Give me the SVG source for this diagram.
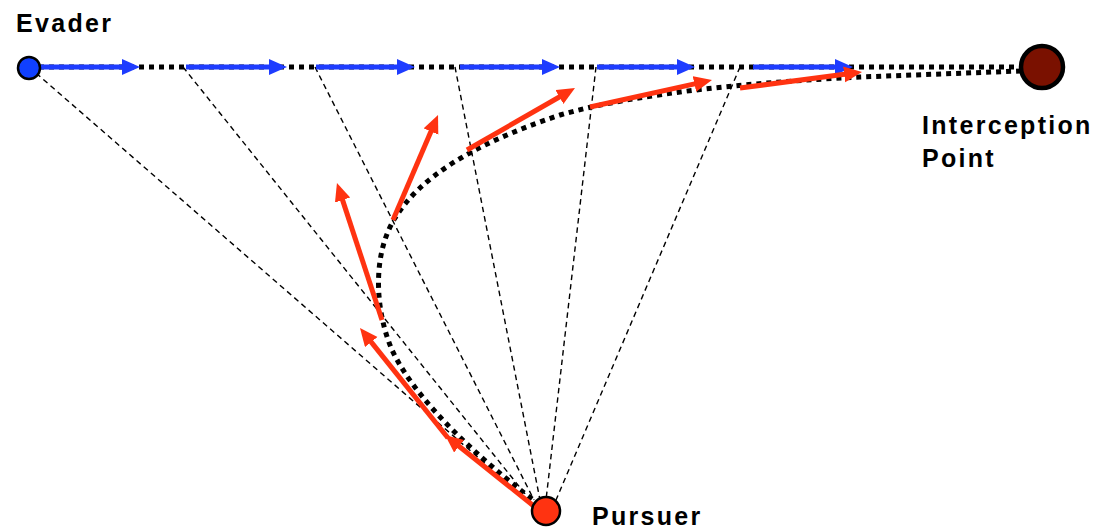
<svg xmlns="http://www.w3.org/2000/svg" width="1094" height="528" viewBox="0 0 1094 528">
  <defs>
    <marker id="headBlue" markerUnits="userSpaceOnUse" markerWidth="19" markerHeight="17" refX="6" refY="8" orient="auto">
      <path d="M0,0 L18,8 L0,16 z" fill="#1e3cff"/>
    </marker>
    <marker id="headRed" markerUnits="userSpaceOnUse" markerWidth="19" markerHeight="17" refX="6" refY="8" orient="auto">
      <path d="M0,0 L18,8 L0,16 z" fill="#ff3311"/>
    </marker>
    <style>
      .label { font-family: "Liberation Sans", Arial, sans-serif; font-weight: bold; font-size: 25px; letter-spacing: 2.3px; fill: #000; }
      .sight { stroke: #000; stroke-width: 1.4; stroke-dasharray: 5.5 4; fill: none; }
      .track { stroke: #000; stroke-width: 5; stroke-dasharray: 5 5; fill: none; }
      .evstep { stroke: #1e3cff; stroke-width: 5; fill: none; marker-end: url(#headBlue); }
      .pustep { stroke: #ff3311; stroke-width: 5; fill: none; marker-end: url(#headRed); }
      .node { stroke: #000; }
    </style>
  </defs>

  <rect width="1094" height="528" fill="#fff"/>

  <g id="connectors">
    <!-- lines of sight from pursuer to successive evader positions -->
    <g id="sight-lines">
      <line class="sight" x1="29" y1="67" x2="527" y2="500"/>
      <line class="sight" x1="183" y1="67" x2="530" y2="500"/>
      <line class="sight" x1="315" y1="67" x2="534" y2="500"/>
      <line class="sight" x1="455" y1="67" x2="540" y2="500"/>
      <line class="sight" x1="596" y1="67" x2="546" y2="500"/>
      <line class="sight" x1="740" y1="67" x2="556" y2="500"/>
    </g>

    <!-- evader straight path and pursuer curved path -->
    <g id="paths">
      <line class="track" x1="29" y1="67" x2="1020" y2="67"/>
      <path class="track" stroke-dasharray="5 4.5" d="M540,505 C500,475 420,410 392,350 C375,310 372,255 395,218 C420,178 470,145 560,115 C640,92 760,82 860,77 L1020,71"/>
    </g>

    <!-- evader velocity steps -->
    <g id="evader-steps">
      <line class="evstep" x1="41" y1="67" x2="128" y2="67"/>
      <line class="evstep" x1="186" y1="67" x2="275" y2="67"/>
      <line class="evstep" x1="316" y1="67" x2="403" y2="67"/>
      <line class="evstep" x1="460" y1="67" x2="548" y2="67"/>
      <line class="evstep" x1="597" y1="67" x2="683" y2="67"/>
      <line class="evstep" x1="753" y1="67" x2="841" y2="67"/>
    </g>

    <!-- pursuer velocity steps -->
    <g id="pursuer-steps">
      <line class="pustep" x1="535" y1="507" x2="454.4" y2="442.5"/>
      <line class="pustep" x1="448" y1="438" x2="367.5" y2="337.4"/>
      <line class="pustep" x1="382" y1="320" x2="340.7" y2="194.4"/>
      <line class="pustep" x1="393" y1="220" x2="433.3" y2="126"/>
      <line class="pustep" x1="467" y1="150" x2="564.6" y2="94"/>
      <line class="pustep" x1="590" y1="107" x2="700.3" y2="82.6"/>
      <line class="pustep" x1="740" y1="88" x2="850.1" y2="73.6"/>
    </g>
  </g>

  <g id="evader">
    <circle class="node" cx="29" cy="68" r="11" fill="#1040ff" stroke-width="2.5"/>
    <text class="label" x="16" y="32">Evader</text>
  </g>

  <g id="interception-point">
    <circle class="node" cx="1042" cy="67" r="21" fill="#7a1100" stroke-width="4.5"/>
    <text class="label" x="922" y="134">Interception</text>
    <text class="label" x="922" y="167">Point</text>
  </g>

  <g id="pursuer">
    <circle class="node" cx="546" cy="511" r="14" fill="#ff3311" stroke-width="2.5"/>
    <text class="label" x="592" y="525">Pursuer</text>
  </g>
</svg>
